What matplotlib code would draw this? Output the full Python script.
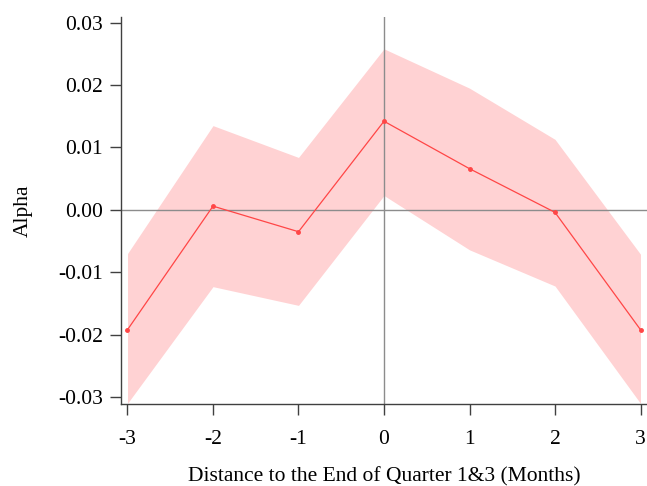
import matplotlib
matplotlib.use('Agg')
import matplotlib.pyplot as plt

plt.rcParams['font.family'] = ['Liberation Serif', 'DejaVu Serif']

months = [-3, -2, -1, 0, 1, 2, 3]
alpha = [-0.0192, 0.0006, -0.0035, 0.0142, 0.0066, -0.0004, -0.0192]
upper = [-0.0070, 0.0135, 0.0084, 0.0258, 0.0195, 0.0113, -0.0071]
lower = [-0.0310, -0.0123, -0.0153, 0.0023, -0.0064, -0.0122, -0.0310]
yticks = [-0.03, -0.02, -0.01, 0.00, 0.01, 0.02, 0.03]

fig = plt.figure(figsize=(6.47, 4.86), dpi=100)
ax = fig.add_axes([121 / 647, 1 - 404 / 486, 526 / 647, 387 / 486])

ax.fill_between(months, lower, upper, color='#ffd2d3', linewidth=0, zorder=1)
ax.axhline(0, color='#8c8c8c', linewidth=1, zorder=2)
ax.axvline(0, color='#8c8c8c', linewidth=1, zorder=2)
ax.plot(months, alpha, color='#ff4646', linewidth=0.9, marker='o',
        markersize=2.5, zorder=3)

ax.set_xlim(-3.076, 3.076)
ax.set_ylim(-0.0311, 0.0309)
ax.set_xticks(months)
ax.set_xticklabels([str(m) for m in months])
ax.set_yticks(yticks)
ax.set_yticklabels(['%.2f' % v for v in yticks])

for side in ['top', 'right']:
    ax.spines[side].set_visible(False)
for side in ['left', 'bottom']:
    ax.spines[side].set_color('#404040')
    ax.spines[side].set_linewidth(1)
ax.tick_params(axis='both', colors='#404040', labelcolor='black',
               labelsize=15.5, length=8, width=1)
ax.tick_params(axis='x', pad=11)
ax.tick_params(axis='y', pad=5)

ax.set_xlabel('Distance to the End of Quarter 1&3 (Months)', fontsize=15.5, labelpad=13)
ax.set_ylabel('Alpha', fontsize=15.5, labelpad=18.5)

fig.savefig('out.png', dpi=100)
